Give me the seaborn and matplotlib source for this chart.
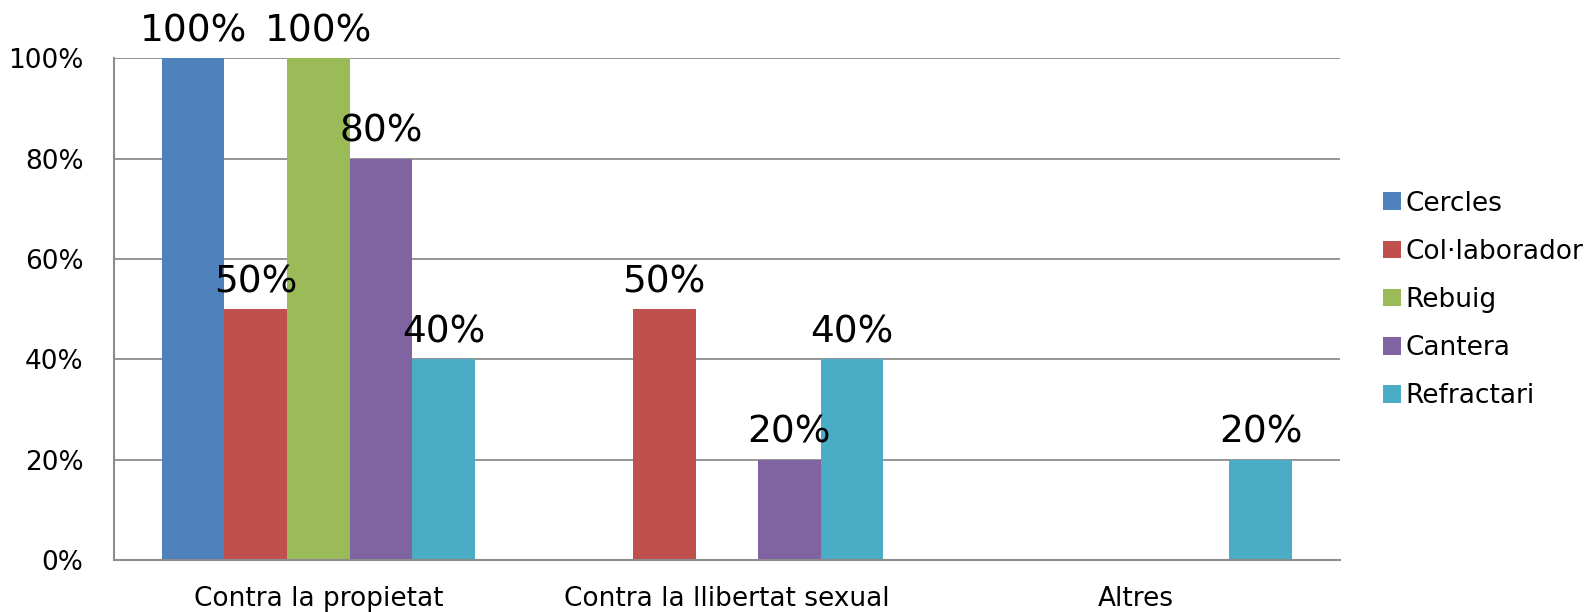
import matplotlib
matplotlib.use("Agg")
import matplotlib.pyplot as plt
import seaborn as sns
import pandas as pd
from matplotlib.patches import Patch

categories = ["Contra la propietat", "Contra la llibertat sexual", "Altres"]
series = ["Cercles", "Col·laborador", "Rebuig", "Cantera", "Refractari"]
cercles = [1.00, 0.0, 0.0]
collaborador = [0.50, 0.50, 0.0]
rebuig = [1.00, 0.0, 0.0]
cantera = [0.80, 0.20, 0.0]
refractari = [0.40, 0.40, 0.20]
colors = ["#4F81BD", "#C0504D", "#9BBB59", "#8064A2", "#4BACC6"]
yticks = [0, 0.2, 0.4, 0.6, 0.8, 1.0]
yticklabels = ["0%", "20%", "40%", "60%", "80%", "100%"]

values = [cercles, collaborador, rebuig, cantera, refractari]
rows = []
for s, vals in zip(series, values):
    for c, v in zip(categories, vals):
        rows.append({"cat": c, "serie": s, "val": v})
df = pd.DataFrame(rows)

sns.set_theme(style="white")
plt.rcParams['font.family'] = ['DejaVu Sans']

fig = plt.figure(figsize=(15.94, 6.12), dpi=100)
ax = fig.add_axes([0.0715, 0.085, 0.769, 0.820])

sns.barplot(data=df, x="cat", y="val", hue="serie", order=categories,
            hue_order=series, palette=colors, width=0.766, gap=0,
            saturation=1, errorbar=None, ax=ax, legend=False,
            linewidth=0, edgecolor="none")

for cont in ax.containers:
    labels = [f"{v*100:.0f}%" if v > 0 else "" for v in cont.datavalues]
    ax.bar_label(cont, labels=labels, padding=6.5, fontsize=27, color="black",
                 clip_on=False)

ax.set_ylim(0, 1.0)
ax.set_yticks(yticks)
ax.set_yticklabels(yticklabels, fontsize=19, color="black")
ax.tick_params(axis="x", labelsize=19, pad=19, length=0, labelcolor="black")
ax.tick_params(axis="y", length=0, pad=22)
ax.set_xlabel("")
ax.set_ylabel("")
ax.yaxis.grid(True, color="#8C8C8C", linewidth=1.3)
ax.set_axisbelow(True)
for side in ["top", "right"]:
    ax.spines[side].set_visible(False)
for side in ["left", "bottom"]:
    ax.spines[side].set_color("#8C8C8C")
    ax.spines[side].set_linewidth(1.5)

handles = [Patch(facecolor=c, edgecolor="none") for c in colors]
leg = fig.legend(handles, series, loc="center left", bbox_to_anchor=(0.853, 0.510),
                 frameon=False, fontsize=19, handlelength=0.65, handleheight=0.65,
                 handletextpad=0.2, labelspacing=0.84)
for t in leg.get_texts():
    t.set_color("black")

fig.savefig("out.png", dpi=100)
